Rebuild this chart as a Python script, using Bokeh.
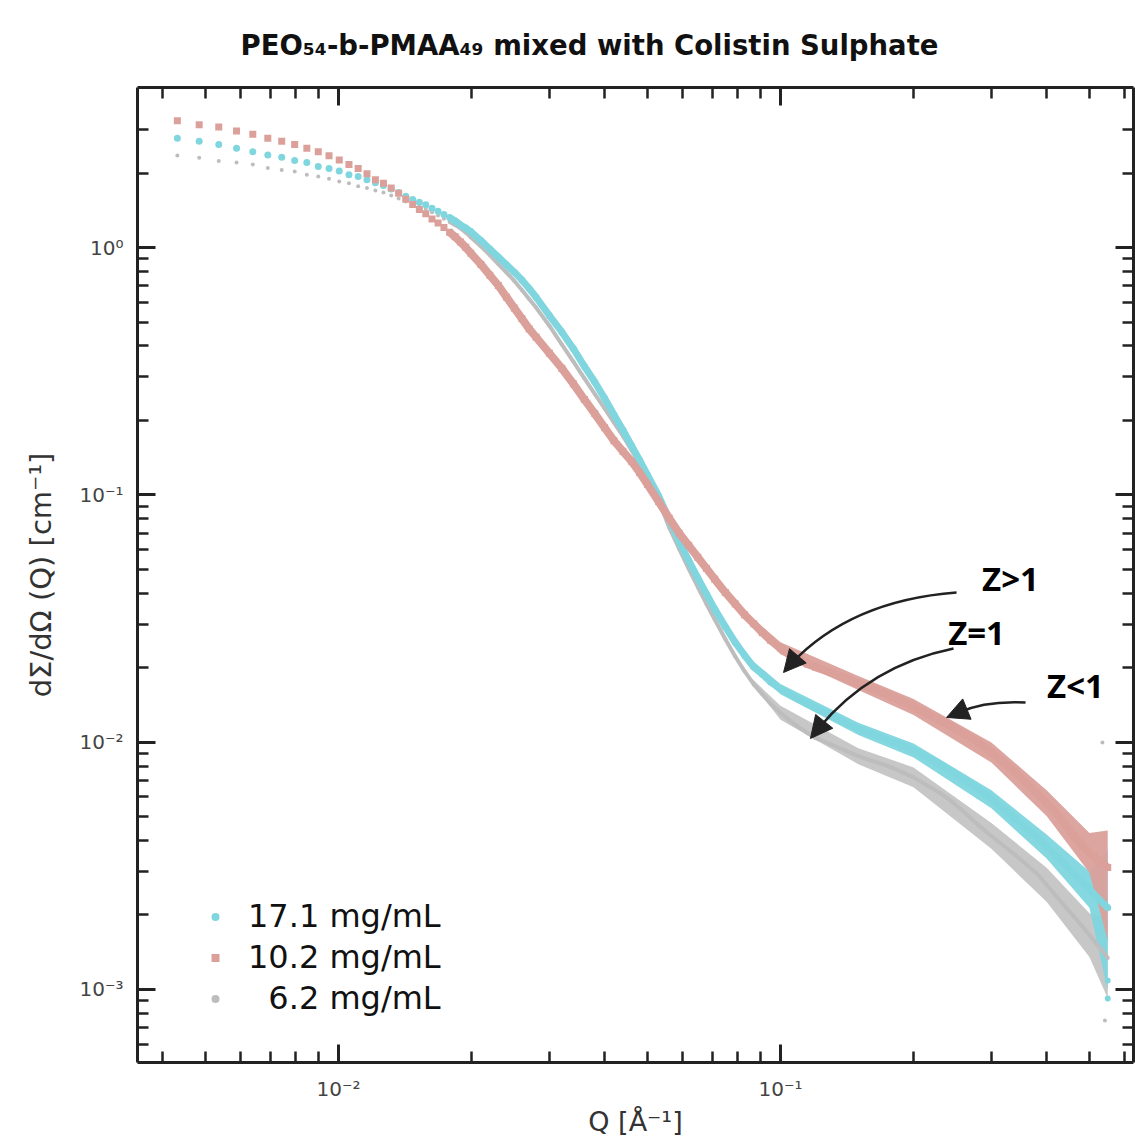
from bokeh.plotting import figure
from bokeh.models import (LogAxis, FixedTicker, CustomJSTickFormatter, Legend, LegendItem,
                          Arrow, NormalHead, Range1d)
from bokeh.core.properties import value
from bokeh.embed import file_html
from bokeh.resources import INLINE

# ---------------- data ----------------
q = [0.00432, 0.00484, 0.00536, 0.00588, 0.0064, 0.00692, 0.00744, 0.00796, 0.00848, 0.009,
     0.00952, 0.01004, 0.01056, 0.01108, 0.0116, 0.01212, 0.01264, 0.01316, 0.01368,
     0.0142, 0.01472, 0.01524, 0.01576, 0.01628, 0.0168, 0.01732, 0.01784, 0.01836, 0.01888,
     0.0194, 0.01992,
     0.021, 0.022, 0.023, 0.024, 0.025, 0.026, 0.027, 0.028,
     0.030, 0.032, 0.034, 0.036, 0.038, 0.040, 0.042, 0.044, 0.046, 0.048, 0.050,
     0.053, 0.056, 0.059, 0.062, 0.065, 0.068, 0.071,
     0.075, 0.079, 0.083, 0.087, 0.091, 0.095,
     0.100, 0.105, 0.110, 0.115, 0.120,
     0.13, 0.14, 0.15, 0.16, 0.17, 0.18, 0.19, 0.20,
     0.215, 0.23, 0.245, 0.26,
     0.28, 0.30, 0.32, 0.34, 0.36, 0.38, 0.40, 0.42, 0.44, 0.46, 0.48, 0.50, 0.52, 0.54,
     0.55]

i_17_1 = [2.77, 2.69, 2.61, 2.52, 2.44, 2.37, 2.32, 2.25, 2.21, 2.13, 2.09, 2.04, 1.97, 1.94,
          1.88, 1.83, 1.781, 1.724, 1.669,
          1.612, 1.564, 1.526, 1.490, 1.443, 1.401, 1.361, 1.323, 1.282, 1.235, 1.199, 1.161,
          1.068, 0.987, 0.915, 0.851, 0.794, 0.740, 0.683, 0.630,
          0.531, 0.456, 0.390, 0.331, 0.286, 0.2456, 0.211, 0.183, 0.1585, 0.1382, 0.1203,
          0.0990, 0.0796, 0.0647, 0.0542, 0.0461, 0.0397, 0.0345,
          0.0293, 0.0253, 0.0224, 0.0201, 0.0188, 0.0175,
          0.01638, 0.01557, 0.01487, 0.01427, 0.01374,
          0.01279, 0.01197, 0.01131, 0.01083, 0.01040, 0.01001, 0.00965, 0.00926,
          0.00868, 0.00811, 0.00755, 0.00706,
          0.00647, 0.00588, 0.00535, 0.00490, 0.00449, 0.00414, 0.00378, 0.00346, 0.00319,
          0.00294, 0.00273, 0.00254, 0.00236, 0.00221,
          0.00214]

i_10_2 = [3.26, 3.14, 3.07, 2.96, 2.87, 2.77, 2.69, 2.61, 2.52, 2.44, 2.35, 2.26, 2.17, 2.09,
          1.99, 1.88, 1.82, 1.74, 1.66,
          1.57, 1.494, 1.427, 1.370, 1.306, 1.257, 1.205, 1.153, 1.105, 1.053, 1.002, 0.949,
          0.855, 0.773, 0.702, 0.630, 0.569, 0.516, 0.469, 0.434,
          0.374, 0.325, 0.281, 0.243, 0.213, 0.187, 0.1655, 0.150, 0.1368, 0.1231, 0.1102,
          0.0939, 0.0805, 0.0699, 0.0624, 0.0559, 0.0504, 0.0456,
          0.0403, 0.0362, 0.0327, 0.0301, 0.0277, 0.0258,
          0.0240, 0.0225, 0.0216, 0.0207, 0.0201,
          0.0191, 0.0182, 0.0173, 0.0166, 0.0159, 0.0152, 0.0145, 0.0139,
          0.0130, 0.0122, 0.0115, 0.0108,
          0.00997, 0.00908, 0.00827, 0.00756, 0.00683, 0.00620, 0.00566, 0.00519, 0.00466,
          0.00419, 0.00384, 0.00356, 0.00335, 0.00318,
          0.00311]

i_6_2 = [2.355, 2.31, 2.24, 2.21, 2.17, 2.10, 2.06, 2.03, 1.97, 1.94, 1.90, 1.85, 1.82, 1.77,
         1.74, 1.70, 1.669, 1.623, 1.578,
         1.536, 1.501, 1.466, 1.433, 1.389, 1.347, 1.308, 1.270, 1.235, 1.196, 1.152, 1.102,
         1.012, 0.933, 0.858, 0.792, 0.733, 0.674, 0.620, 0.572,
         0.483, 0.406, 0.346, 0.296, 0.256, 0.2236, 0.196, 0.173, 0.1518, 0.1338, 0.1172,
         0.0950, 0.0738, 0.0604, 0.0502, 0.0424, 0.0362, 0.0313,
         0.0261, 0.0222, 0.0193, 0.0171, 0.0156, 0.01429,
         0.01313, 0.01222, 0.01149, 0.01089, 0.01040,
         0.00980, 0.00925, 0.00877, 0.00843, 0.00815, 0.00784, 0.00751, 0.00720,
         0.00667, 0.00621, 0.00573, 0.00521,
         0.00462, 0.00417, 0.00381, 0.00349, 0.00320, 0.00294, 0.00265, 0.00239, 0.00217,
         0.00198, 0.00181, 0.00166, 0.00152, 0.00140,
         0.00134]

# scatter envelope of the noisy high-Q data
q_env = [0.085, 0.10, 0.15, 0.20, 0.30, 0.40, 0.50, 0.55]
hi_17_1 = [0.0219, 0.01716, 0.01196, 0.00988, 0.00639, 0.00423, 0.00300, 0.00364]
lo_17_1 = [0.0205, 0.01563, 0.01069, 0.00867, 0.00540, 0.00338, 0.00214, 0.00099]
hi_10_2 = [0.0326, 0.02535, 0.01851, 0.01494, 0.00996, 0.00639, 0.00429, 0.00439]
lo_10_2 = [0.0302, 0.02266, 0.01624, 0.01287, 0.00827, 0.00502, 0.00296, 0.00158]
hi_6_2 = [0.0185, 0.01402, 0.00945, 0.00790, 0.00471, 0.00310, 0.00203, 0.00194]
lo_6_2 = [0.0179, 0.01231, 0.00814, 0.00656, 0.00370, 0.00226, 0.00135, 0.00092]

# isolated stray points at the highest Q
q_out_6_2 = [0.535, 0.542]
i_out_6_2 = [0.00996, 0.000748]
q_out_17_1 = [0.55, 0.55]
i_out_17_1 = [0.000919, 0.001086]

series_labels = ["17.1 mg/mL", "10.2 mg/mL", "\u20076.2 mg/mL"]
title_text = "PEO\u2085\u2084-b-PMAA\u2084\u2089 mixed with Colistin Sulphate"

# annotations
z_text = ["Z>1", "Z=1", "Z<1"]
z_q = [0.3315, 0.2777, 0.4650]
z_i = [0.0459, 0.0277, 0.0169]
# arrows: start, control, end of curve and arrow tip
arr_q0 = [0.2502, 0.2463, 0.3584]
arr_i0 = [0.04026, 0.02390, 0.01446]
arr_qc = [0.1440, 0.1598, 0.2910]
arr_ic = [0.03737, 0.02040, 0.01473]
arr_q1 = [0.1053, 0.1219, 0.2528]
arr_i1 = [0.02060, 0.01135, 0.01317]
tip_q = [0.1016, 0.1169, 0.2375]
tip_i = [0.01912, 0.01034, 0.01258]

CYAN = "#80d6de"
RED = "#dba09a"
GRAY = "#bdbdbd"
INK = "#222222"

# ---------------- figure ----------------
p = figure(width=1135, height=1140, x_axis_type="log", y_axis_type="log",
           x_range=Range1d(0.00351, 0.629), y_range=Range1d(0.000506, 4.44),
           output_backend="svg", toolbar_location=None,
           min_border_left=137, min_border_right=2, min_border_top=87, min_border_bottom=78)
p.xgrid.grid_line_color = None
p.ygrid.grid_line_color = None
p.outline_line_color = None
p.background_fill_color = "white"
p.border_fill_color = "white"

p.title.text = title_text
p.title.text_font = "DejaVu Sans"
p.title.text_font_style = "bold"
p.title.text_font_size = "27.5px"
p.title.text_color = "#111111"
p.title.align = "left"
p.title.offset = 103
p.title.standoff = 53

minor_x = [m * 10.0 ** e for e in (-3, -2, -1) for m in range(2, 10)]
minor_y = [m * 10.0 ** e for e in (-4, -3, -2, -1) for m in range(2, 10)] + [2.0, 3.0]
xt = FixedTicker(ticks=[0.01, 0.1], minor_ticks=minor_x)
yt = FixedTicker(ticks=[0.001, 0.01, 0.1, 1.0], minor_ticks=minor_y)

fmt_code = """
const e = Math.round(Math.log10(tick));
const sup = {'-':'\u207b','0':'\u2070','1':'\u00b9','2':'\u00b2','3':'\u00b3','4':'\u2074'};
return '10' + String(e).split('').map(c => sup[c]).join('');
"""
blank = CustomJSTickFormatter(code="return '';")


def style(ax, ticker, labels):
    ax.ticker = ticker
    ax.axis_line_width = 3
    ax.axis_line_color = INK
    ax.major_tick_in = 18
    ax.major_tick_out = 0
    ax.minor_tick_in = 11
    ax.minor_tick_out = 0
    ax.major_tick_line_width = 3
    ax.minor_tick_line_width = 2.5
    ax.major_tick_line_color = INK
    ax.minor_tick_line_color = INK
    if labels:
        ax.formatter = CustomJSTickFormatter(code=fmt_code)
        ax.major_label_text_font = "DejaVu Sans"
        ax.major_label_text_font_size = "20px"
        ax.major_label_text_color = "#444444"
        ax.axis_label_text_font = "DejaVu Sans"
        ax.axis_label_text_font_style = "normal"
        ax.axis_label_text_color = "#333333"
    else:
        ax.formatter = blank
        ax.major_label_standoff = 0
        ax.major_label_text_font_size = "1px"


style(p.xaxis[0], xt, True)
style(p.yaxis[0], yt, True)
p.xaxis[0].axis_label = "Q [\u00c5\u207b\u00b9]"
p.xaxis[0].axis_label_text_font_size = "27px"
p.xaxis[0].major_label_standoff = 14
p.xaxis[0].axis_label_standoff = 2
p.yaxis[0].axis_label = "d\u03a3/d\u03a9 (Q) [cm\u207b\u00b9]"
p.yaxis[0].axis_label_text_font_size = "29px"
p.yaxis[0].major_label_standoff = 14
p.yaxis[0].axis_label_standoff = 18

top = LogAxis()
style(top, xt, False)
p.add_layout(top, "above")
right = LogAxis()
style(right, yt, False)
p.add_layout(right, "right")

# ---------------- data marks ----------------
lines_from = 26
# high-Q scatter bands
p.varea(x=q_env, y1=lo_6_2, y2=hi_6_2, fill_color=GRAY, fill_alpha=0.85)
p.varea(x=q_env, y1=lo_17_1, y2=hi_17_1, fill_color=CYAN, fill_alpha=0.95)
p.varea(x=q_env, y1=lo_10_2, y2=hi_10_2, fill_color=RED, fill_alpha=0.95)

p.line(q[lines_from:], i_6_2[lines_from:], line_color=GRAY, line_width=4)
r_gray = p.scatter(q, i_6_2, marker="circle", size=4, fill_color=GRAY, line_color=None)
p.scatter(q_out_6_2, i_out_6_2, marker="circle", size=4, fill_color=GRAY, line_color=None)

p.line(q[lines_from:], i_17_1[lines_from:], line_color=CYAN, line_width=7)
r_cyan = p.scatter(q, i_17_1, marker="circle", size=7, fill_color=CYAN, line_color=None)
p.scatter(q_out_17_1, i_out_17_1, marker="circle", size=6, fill_color=CYAN, line_color=None)

p.line(q[lines_from:], i_10_2[lines_from:], line_color=RED, line_width=8)
r_red = p.scatter(q, i_10_2, marker="square", size=7, fill_color=RED, line_color=None)

# ---------------- annotations ----------------
p.text(x=z_q, y=z_i, text=z_text, text_font=value("Open Sans"), text_font_style="bold",
       text_font_size="33px", text_color="black", text_align="center", text_baseline="middle")
p.quadratic(x0=arr_q0, y0=arr_i0, x1=arr_q1, y1=arr_i1, cx=arr_qc, cy=arr_ic,
            line_color=INK, line_width=2.5)
for k in range(3):
    p.add_layout(Arrow(end=NormalHead(size=22, fill_color=INK, line_color=INK),
                       x_start=arr_q1[k], y_start=arr_i1[k], x_end=tip_q[k], y_end=tip_i[k],
                       line_color=INK, line_width=2.5))

legend = Legend(items=[LegendItem(label=series_labels[0], renderers=[r_cyan]),
                       LegendItem(label=series_labels[1], renderers=[r_red]),
                       LegendItem(label=series_labels[2], renderers=[r_gray])],
                location=(68, 45))
legend.label_text_font = "DejaVu Sans"
legend.label_text_font_size = "32px"
legend.label_text_color = "#111111"
legend.glyph_width = 20
legend.glyph_height = 37
legend.label_height = 37
legend.label_standoff = 23
legend.spacing = 3
legend.padding = 0
legend.margin = 0
legend.background_fill_alpha = 0
legend.border_line_alpha = 0
p.add_layout(legend, "center")

open("out.html", "w").write(file_html(p, INLINE))
